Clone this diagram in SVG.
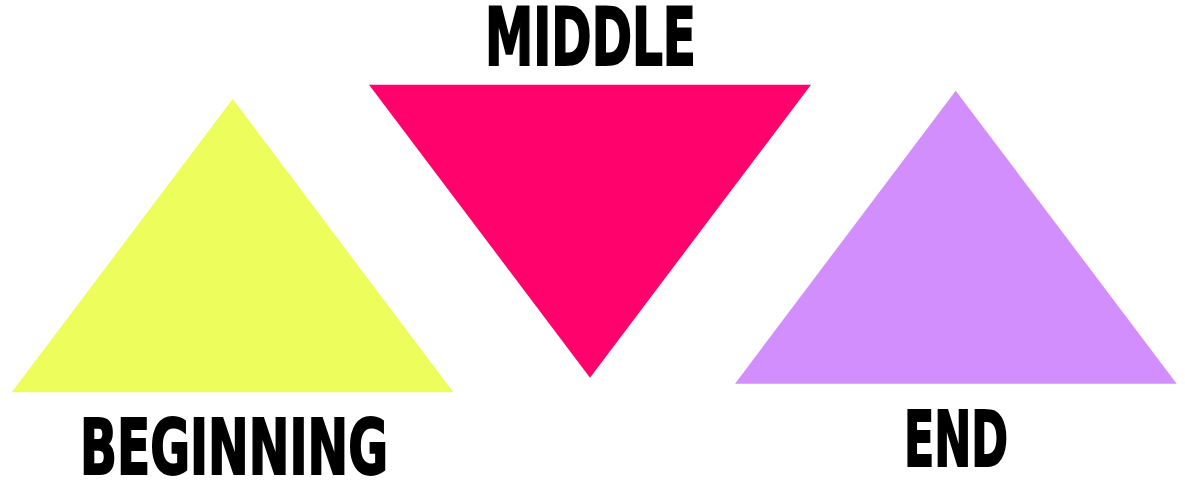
<svg xmlns="http://www.w3.org/2000/svg" width="1185" height="484" viewBox="0 0 1185 484">
  <style>
    .lbl { font-family: "Liberation Sans Narrow", "DejaVu Sans Condensed", "Liberation Sans", sans-serif; font-weight: bold; fill: #000000; stroke: #000000; stroke-width: 2; stroke-linejoin: miter; }
  </style>
  <rect x="0" y="0" width="1185" height="484" fill="#ffffff"/>
  <g id="beginning">
    <polygon points="232.7,99 453.3,392.3 11.7,392.3" fill="#edfd5b"/>
    <text class="lbl" x="80" y="474" font-size="76" textLength="308" lengthAdjust="spacingAndGlyphs">BEGINNING</text>
  </g>
  <g id="middle">
    <polygon points="369,84.7 811,84.7 590,377.7" fill="#ff026c"/>
    <text class="lbl" x="485" y="65" font-size="81" textLength="211" lengthAdjust="spacingAndGlyphs">MIDDLE</text>
  </g>
  <g id="end">
    <polygon points="955.7,90.7 1176.7,383.7 735,383.7" fill="#d28efd"/>
    <text class="lbl" x="904" y="466" font-size="76" textLength="104" lengthAdjust="spacingAndGlyphs">END</text>
  </g>
</svg>
